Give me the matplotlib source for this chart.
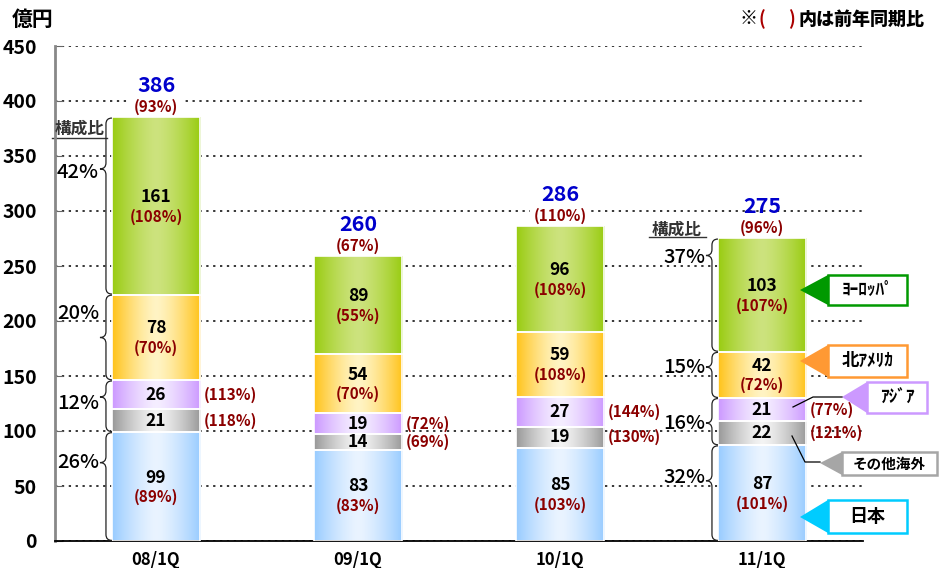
import numpy as np
import matplotlib
matplotlib.use("Agg")
import matplotlib.pyplot as plt
from matplotlib.path import Path
from matplotlib.patches import PathPatch, Polygon, Rectangle
from matplotlib.lines import Line2D
from matplotlib.colors import to_rgb

plt.rcParams['font.family'] = ['Noto Sans CJK JP', 'DejaVu Sans']

# data (億円) and YoY ratios
quarters = ['08/1Q', '09/1Q', '10/1Q', '11/1Q']
japan = [99, 83, 85, 87]
other = [21, 14, 19, 22]
asia = [26, 19, 27, 21]
namerica = [78, 54, 59, 42]
europe = [161, 89, 96, 103]
totals = [386, 260, 286, 275]

japan_yoy = [89, 83, 103, 101]
other_yoy = [118, 69, 130, 121]
asia_yoy = [113, 72, 144, 77]
namerica_yoy = [70, 70, 108, 72]
europe_yoy = [108, 55, 108, 107]
total_yoy = [93, 67, 110, 96]

# composition shares (top -> bottom: Europe, N.America, Asia+Other, Japan)
share_08 = ['42%', '20%', '12%', '26%']
share_11 = ['37%', '15%', '16%', '32%']

legend_names = ['ﾖｰﾛｯﾊﾟ', '北ｱﾒﾘｶ', 'ｱｼﾞｱ', 'その他海外', '日本']

# styles: (edge colour, centre colour)
series = [
    (japan, japan_yoy, '#99CCFF', '#EAF4FF', True),
    (other, other_yoy, '#999999', '#F4F4F4', False),
    (asia, asia_yoy, '#CC99FF', '#F5EEFF', False),
    (namerica, namerica_yoy, '#FFC31A', '#FFF4C4', True),
    (europe, europe_yoy, '#99CC11', '#CDE37E', True),
]
RED = '#8B0000'
BLUE = '#0000CC'

W, H = 940, 568
fig = plt.figure(figsize=(W / 100, H / 100), dpi=100)
ax = fig.add_axes([55 / W, 27 / H, 808 / W, 495 / H])

x = np.arange(len(quarters))
bw = 0.436
kx = 1 / 202.0   # data units per pixel (x)
ky = 1 / 1.1     # data units per pixel (y)


def gradient(x0, x1, y0, y1, edge, mid):
    t = np.linspace(-1, 1, 80)
    w = np.abs(t) ** 1.4
    e = np.array(to_rgb(edge))
    m = np.array(to_rgb(mid))
    row = m[None, :] * (1 - w[:, None]) + e[None, :] * w[:, None]
    ax.imshow(row[None, :, :], extent=[x0, x1, y0, y1], aspect='auto',
              interpolation='bilinear', zorder=2)


bottom = np.zeros(len(quarters))
for vals, yoy, edge, mid, inside in series:
    bars = ax.bar(x, vals, bw, bottom=bottom, color=edge, zorder=1)
    for i, b in enumerate(bars):
        x0, y0 = b.get_x(), b.get_y()
        gradient(x0, x0 + b.get_width(), y0, y0 + b.get_height(), edge, mid)
        cy = y0 + b.get_height() / 2
        if inside:
            ax.annotate(str(vals[i]), (x[i], cy), xytext=(0, 6.5), textcoords='offset points',
                        ha='center', va='center', fontsize=12.5, fontweight='bold', zorder=5)
            ax.annotate('(%d%%)' % yoy[i], (x[i], cy), xytext=(0, -7.5), textcoords='offset points',
                        ha='center', va='center', fontsize=11, fontweight='bold', color=RED, zorder=5)
        else:
            ax.annotate(str(vals[i]), (x[i], cy), ha='center', va='center',
                        fontsize=12.5, fontweight='bold', zorder=5)
            ax.annotate('(%d%%)' % yoy[i], (x[i] + bw / 2, cy), xytext=(2.5, 0), textcoords='offset points',
                        ha='left', va='center', fontsize=11, fontweight='bold', color=RED, zorder=5)
    ax.bar(x, vals, bw, bottom=bottom, color='none', edgecolor='white', linewidth=1.2, zorder=3)
    bottom += np.array(vals)

# totals (white box hides the gridline behind the ratio)
for i in range(len(quarters)):
    ax.annotate('(%d%%)' % total_yoy[i], (x[i], bottom[i]), xytext=(0, 7.5), textcoords='offset points',
                ha='center', va='center', fontsize=11, fontweight='bold', color=RED, zorder=0.8,
                bbox=dict(boxstyle='square,pad=0.25', facecolor='white', edgecolor='none'))
    ax.annotate(str(totals[i]), (x[i], bottom[i]), xytext=(0, 23), textcoords='offset points',
                ha='center', va='center', fontsize=15.5, fontweight='bold', color=BLUE)


def brace(xr, y_top, y_bot, y_tip):
    xl = xr - 6 * kx
    xt = xl - 6 * kx
    r = 6 * ky
    verts = [(xr, y_top), (xl, y_top), (xl, y_top - r),
             (xl, y_tip + r), (xl, y_tip), (xt, y_tip),
             (xl, y_tip), (xl, y_tip - r),
             (xl, y_bot + r), (xl, y_bot), (xr, y_bot)]
    codes = [Path.MOVETO, Path.CURVE3, Path.CURVE3, Path.LINETO, Path.CURVE3, Path.CURVE3,
             Path.CURVE3, Path.CURVE3, Path.LINETO, Path.CURVE3, Path.CURVE3]
    ax.add_patch(PathPatch(Path(verts, codes), fill=False, lw=0.9, color='#222222',
                           clip_on=False, zorder=4))


def share_braces(i, labels, tip_frac, lab_frac):
    b = [0, japan[i], japan[i] + other[i] + asia[i],
         japan[i] + other[i] + asia[i] + namerica[i], bottom[i]]
    groups = [(b[4], b[3]), (b[3], b[2]), (b[2], b[1]), (b[1], b[0])]
    xr = x[i] - bw / 2
    for (yt, yb), lab, tf, lf in zip(groups, labels, tip_frac, lab_frac):
        brace(xr, yt - 0.5, yb + 0.5, yb + (yt - yb) * tf)
        ax.text(xr - 13 * kx, yb + (yt - yb) * lf, lab, ha='right', va='center',
                fontsize=14.5, fontweight='medium', clip_on=False, zorder=6)


share_braces(0, share_08, [0.71, 0.5, 0.68, 0.72], [0.69, 0.78, 0.55, 0.72])
share_braces(3, share_11, [0.85, 0.67, 0.47, 0.63], [0.83, 0.67, 0.47, 0.66])

# 構成比 headers
for i, tx, ty, ux0, ux1, uy in [(0, -32, -11, -60, -5, -20), (3, -41, 9, -69, -12, 1)]:
    xl = x[i] - bw / 2
    ax.text(xl + tx * kx, bottom[i] + ty * ky, '構成比', ha='center', va='center',
            fontsize=12, fontweight='bold', color='#333333', clip_on=False)
    ax.plot([xl + ux0 * kx, xl + ux1 * kx], [bottom[i] + uy * ky] * 2, color='#333333',
            lw=1, clip_on=False)

# axes styling
ax.set_xlim(-0.5, 3.5)
ax.set_ylim(0, 450)
ax.set_yticks(np.arange(0, 451, 50))
ax.set_xticks(x)
ax.set_xticklabels(quarters, fontsize=12, fontweight='bold')
ax.tick_params(axis='x', length=0, pad=7)
ax.tick_params(axis='y', direction='in', length=6, color='#666666', labelsize=14, pad=13)
for lab in ax.get_yticklabels():
    lab.set_fontweight('bold')
ax.yaxis.grid(True, linestyle=(0, (1.5, 3)), color='black', lw=1.1)
ax.set_axisbelow(True)
for s in ['top', 'right']:
    ax.spines[s].set_visible(False)
ax.spines['left'].set_color('#888888')
ax.spines['left'].set_linewidth(2)
ax.spines['bottom'].set_color('black')
ax.spines['bottom'].set_linewidth(1.3)

# header texts
fig.text(12 / W, 1 - 19 / H, '億円', fontsize=15, fontweight='bold', va='center')
fig.text(740 / W, 1 - 19 / H, '※', fontsize=13, fontweight='black', va='center')
fig.text(759 / W, 1 - 19 / H, '(', fontsize=13, fontweight='bold', va='center', color='#AA0000')
fig.text(788 / W, 1 - 19 / H, ')', fontsize=13, fontweight='bold', va='center', color='#AA0000')
fig.text(798 / W, 1 - 19 / H, '内は前年同期比', fontsize=13, fontweight='black', va='center')

# legend callouts (pixel layout)
callouts = [
    ((800, 290), (828, 275, 907, 305), '#009900', 12.5),
    ((800, 361), (828, 345, 907, 377), '#FF9933', 12.5),
    ((842, 397), (867, 382, 927, 413), '#CC99FF', 12.5),
    ((820, 463), (842, 452, 937, 475), '#A6A6A6', 10.5),
    ((800, 517), (828, 500, 907, 533), '#00CCFF', 13),
]


def fpt(px, py):
    return (px / W, 1 - py / H)


for name, (tip, box, col, fs) in zip(legend_names, callouts):
    x0, y0, x1, y1 = box
    fig.add_artist(Polygon([fpt(*tip), fpt(x0, y0), fpt(x0, y1)], closed=True, facecolor=col,
                           edgecolor='none', transform=fig.transFigure, zorder=6))
    fig.add_artist(Rectangle(fpt(x0, y1), (x1 - x0) / W, (y1 - y0) / H, facecolor='white',
                             edgecolor=col, lw=1.8, transform=fig.transFigure, zorder=6))
    fig.text((x0 + x1) / 2 / W, 1 - (y0 + y1) / 2 / H, name, ha='center', va='center',
             fontsize=fs, fontweight='bold', zorder=7)

# leader lines for Asia / Other overseas
for pts in [[(793, 407), (813, 397), (842, 397)], [(792, 436), (805, 462), (820, 462)]]:
    xs, ys = zip(*[fpt(*p) for p in pts])
    fig.add_artist(Line2D(xs, ys, color='black', lw=0.9, transform=fig.transFigure, zorder=6))

fig.savefig('out.png', dpi=100)
